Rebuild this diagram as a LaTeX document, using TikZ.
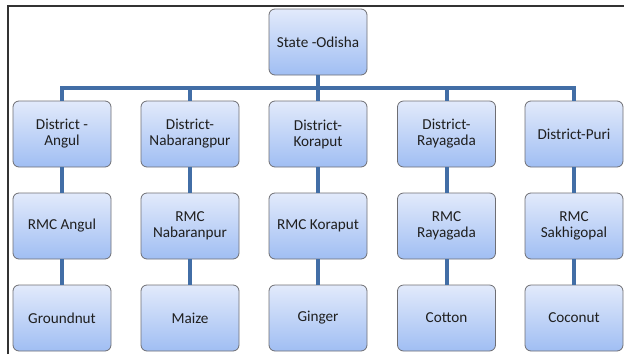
\documentclass[tikz,border=0pt]{standalone}
\usepackage{fontspec}
\setmainfont{Carlito}
\definecolor{linec}{RGB}{66,110,166}
\definecolor{boxtop}{RGB}{226,234,251}
\definecolor{boxbot}{RGB}{160,190,243}
\definecolor{boxedge}{RGB}{110,110,115}
\definecolor{framec}{RGB}{50,50,50}
\begin{document}
\begin{tikzpicture}[x=1pt,y=-1pt,
  box/.style={draw=boxedge, line width=0.8pt, rounded corners=6pt,
    top color=boxtop, bottom color=boxbot, minimum width=98pt, minimum height=66pt,
    inner sep=2pt, align=center, font=\fontsize{15.2}{16}\selectfont, text=black!88},
  conn/.style={draw=linec, line width=4pt}]
\useasboundingbox (0,0) rectangle (624,354);
\draw[framec, line width=1.6pt] (8,354) -- (8,6) -- (624,6);
% state
\node[box] (st) at (318,42) {State -Odisha};
% districts
\node[box] (d1) at (62,134) {District -\\Angul};
\node[box] (d2) at (190,134) {District-\\Nabarangpur};
\node[box] (d3) at (318,134) {District-\\Koraput};
\node[box] (d4) at (446.5,134) {District-\\Rayagada};
\node[box] (d5) at (574,134) {District-Puri};
% rmc
\node[box] (r1) at (62,226) {RMC Angul};
\node[box] (r2) at (190,226) {RMC\\Nabaranpur};
\node[box] (r3) at (318,226) {RMC Koraput};
\node[box] (r4) at (446.5,226) {RMC\\Rayagada};
\node[box] (r5) at (574,226) {RMC\\Sakhigopal};
% crops
\node[box] (c1) at (62,318) {Groundnut};
\node[box] (c2) at (190,318) {Maize};
\node[box] (c3) at (318,318) {Ginger};
\node[box] (c4) at (446.5,318) {Cotton};
\node[box] (c5) at (574,318) {Coconut};
% connectors
\coordinate (bus) at (318,88);
\draw[conn] (st.south) -- (bus);
\draw[conn] (d1.north) -- (d1.north |- bus) -- (d5.north |- bus) -- (d5.north);
\foreach \i in {2,3,4} {\draw[conn] (d\i.north |- bus) -- (d\i.north);}
\foreach \i in {1,...,5} {
  \draw[conn] (d\i.south) -- (r\i.north);
  \draw[conn] (r\i.south) -- (c\i.north);
}
\end{tikzpicture}
\end{document}
